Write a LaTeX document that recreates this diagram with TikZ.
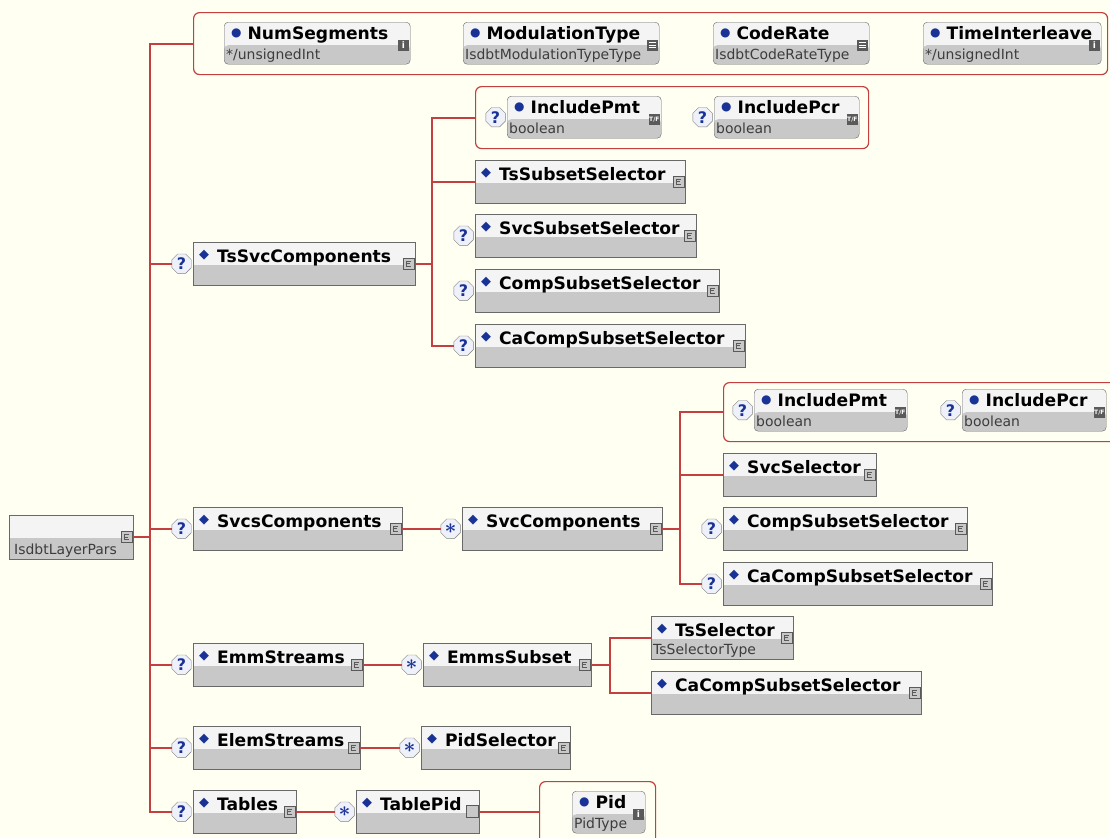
\documentclass[tikz,border=0pt]{standalone}
\usepackage{fontspec}
\usepackage{amsmath}
\usepackage{tikz}
\usetikzlibrary{positioning,shapes.geometric}
\setmainfont{DejaVu Sans}

\definecolor{bgcream}{RGB}{255,255,242}
\definecolor{linkred}{RGB}{196,64,64}
\definecolor{boxline}{RGB}{105,105,105}
\definecolor{bandgray}{RGB}{200,200,200}
\definecolor{topgray}{RGB}{244,244,244}
\definecolor{mkblue}{RGB}{25,50,150}
\definecolor{icondark}{RGB}{90,90,90}
\definecolor{qfill}{RGB}{238,240,250}
\definecolor{typegray}{RGB}{60,60,60}

\newcommand{\mkdiamond}{{\color{mkblue}\raisebox{4bp}{\fontsize{13}{13}\selectfont ◆}}\hspace{8bp}}
\newcommand{\mkdot}{{\color{mkblue}\raisebox{2.5bp}{\fontsize{12}{12}\selectfont ●}}\hspace{6bp}}

\newcommand{\xsdelem}[6]{%
  \node[elembox, minimum width=#4bp] (#1) at (#2,#3) {};
  \node[elemname] (#1-n) at ([shift={(6,20)}]#1.north west) {\mkdiamond #5};
  \node[#6] (#1-i) at ([xshift=-7bp]#1.east) {};}

\newcommand{\xsdattr}[7]{%
  \node[attrbox, minimum width=#4bp] (#1) at (#2,#3) {};
  \node[elemname] (#1-n) at ([shift={(7,17)}]#1.north west) {\mkdot #5};
  \node[typename] (#1-y) at ([shift={(2,-5)}]#1.south west) {#6};
  \node[#7] (#1-i) at ([shift={(-7bp,-2bp)}]#1.east) {};}

\tikzset{
  elembox/.style={rectangle, draw=boxline, fill=topgray, anchor=north west, inner sep=0pt, minimum height=43bp,
    path picture={\fill[bandgray] ([yshift=-23bp]path picture bounding box.north west) rectangle (path picture bounding box.south east);}},
  attrbox/.style={elembox, rounded corners=4bp, minimum height=42bp},
  elemname/.style={anchor=base west, inner sep=0pt, font=\bfseries\fontsize{17.2}{19}\selectfont},
  typename/.style={anchor=base west, inner sep=0pt, text=typegray, font=\fontsize{14}{16}\selectfont},
  grp/.style={rectangle, draw=linkred, rounded corners=6bp, fill=bgcream, anchor=north west, inner sep=0pt, line width=1.2bp},
  link/.style={draw=linkred, line width=2bp},
  optq/.style={regular polygon, regular polygon sides=8, minimum size=21bp, inner sep=0pt, draw=gray, fill=qfill,
    text=mkblue, font=\bfseries\fontsize{16}{16}\selectfont},
  cicon/.style={rectangle, minimum size=11bp, inner sep=0pt, draw=icondark, fill=bandgray, line width=0.6bp,
    path picture={\draw[icondark, line width=0.7bp] ([shift={(2.5bp,2.5bp)}]path picture bounding box.center) -- ++(-5bp,0bp) -- ++(0bp,-5bp) -- ++(5bp,0bp)
      ([shift={(-2.5bp,0bp)}]path picture bounding box.center) -- ++(4bp,0bp);}},
  iicon/.style={rectangle, minimum size=11bp, inner sep=0pt, fill=icondark, text=white, font=\bfseries\fontsize{9}{9}\selectfont,
    execute at begin node={i}},
  eicon/.style={rectangle, minimum size=11bp, inner sep=0pt, fill=icondark,
    path picture={\draw[white, line width=0.8bp] ([shift={(-3.5bp,2.5bp)}]path picture bounding box.center) -- ++(7bp,0bp)
      ([shift={(-3.5bp,0bp)}]path picture bounding box.center) -- ++(7bp,0bp)
      ([shift={(-3.5bp,-2.5bp)}]path picture bounding box.center) -- ++(7bp,0bp);}},
  bicon/.style={rectangle, minimum size=11bp, inner sep=0pt, fill=icondark, text=white, font=\bfseries\fontsize{6}{6}\selectfont,
    execute at begin node={T/F}},
  nicon/.style={rectangle, minimum size=12bp, inner sep=0pt, fill=bandgray, draw=icondark, line width=0.8bp}
}

\begin{document}
\begin{tikzpicture}[x=1bp, y=-1bp]
\useasboundingbox (0,0) rectangle (1110,838);
\fill[bgcream] (0,0) rectangle (1110,838);
\clip (0,0) rectangle (1110,838);

\node[grp, minimum width=914bp, minimum height=62bp] (grp1) at (193,12) {};
\node[grp, minimum width=393bp, minimum height=62bp] (grp2) at (475,86) {};
\node[grp, minimum width=400bp, minimum height=59bp] (grp3) at (723,382) {};
\node[grp, minimum width=116bp, minimum height=64bp] (grp4) at (539,781) {};

\node[elembox, minimum width=124bp, minimum height=44bp] (root) at (9,515) {};
\node[typename] (root-n) at ([shift={(5,-5)}]root.south west) {IsdbtLayerPars};
\node[cicon] (root-i) at ([xshift=-7bp]root.east) {};

\xsdattr{numseg}{224}{22}{186}{NumSegments}{*/unsignedInt}{iicon}
\xsdattr{modtype}{463}{22}{196}{ModulationType}{IsdbtModulationTypeType}{eicon}
\xsdattr{coderate}{713}{22}{156}{CodeRate}{IsdbtCodeRateType}{eicon}
\xsdattr{timeint}{923}{22}{178}{TimeInterleave}{*/unsignedInt}{iicon}

\xsdelem{tssvc}{193}{242}{222}{TsSvcComponents}{cicon}
\xsdattr{tpmt}{507}{96}{154}{IncludePmt}{boolean}{bicon}
\xsdattr{tpcr}{714}{96}{145}{IncludePcr}{boolean}{bicon}
\xsdelem{tssub}{475}{160}{210}{TsSubsetSelector}{cicon}
\xsdelem{tsvcsub}{475}{214}{221}{SvcSubsetSelector}{cicon}
\xsdelem{tcompsub}{475}{269}{244}{CompSubsetSelector}{cicon}
\xsdelem{tcacomp}{475}{324}{270}{CaCompSubsetSelector}{cicon}

\xsdelem{svcs}{193}{507}{209}{SvcsComponents}{cicon}
\xsdelem{svccomp}{462}{507}{200}{SvcComponents}{cicon}
\xsdattr{spmt}{754}{389}{153}{IncludePmt}{boolean}{bicon}
\xsdattr{spcr}{962}{389}{144}{IncludePcr}{boolean}{bicon}
\xsdelem{svcsel}{723}{453}{153}{SvcSelector}{cicon}
\xsdelem{scompsub}{723}{507}{244}{CompSubsetSelector}{cicon}
\xsdelem{scacomp}{723}{562}{269}{CaCompSubsetSelector}{cicon}

\xsdelem{emm}{193}{643}{170}{EmmStreams}{cicon}
\xsdelem{emmsub}{423}{643}{168}{EmmsSubset}{cicon}
\xsdelem{tssel}{651}{616}{142}{TsSelector}{cicon}
\node[typename] (tssel-y) at ([shift={(2,-5)}]tssel.south west) {TsSelectorType};
\xsdelem{ecacomp}{651}{671}{270}{CaCompSubsetSelector}{cicon}

\xsdelem{elems}{193}{726}{167}{ElemStreams}{cicon}
\xsdelem{pidsel}{421}{726}{149}{PidSelector}{cicon}
\xsdelem{tables}{193}{790}{103}{Tables}{cicon}
\xsdelem{tablepid}{356}{790}{123}{TablePid}{nicon}
\xsdattr{pid}{572}{791}{73}{Pid}{PidType}{iicon}

\foreach \n in {tssvc,tsvcsub,tcompsub,tcacomp,tpmt,tpcr,svcs,spmt,spcr,scompsub,scacomp,emm,elems,tables}
  \node[optq, left=1.5bp of \n] (\n-q) {?};
\foreach \n in {svccomp,emmsub,pidsel,tablepid}
  \node[optq, left=1.5bp of \n, font=\fontsize{22}{22}\selectfont] (\n-s) {$\boldsymbol{\ast}$};

\path (root.east) ++(17,0) coordinate (b0);
\draw[link] (root.east) -- (b0);
\draw[link] (grp1.west) -| (b0) |- (tables-q.west);
\foreach \n in {tssvc,svcs,emm,elems}
  \draw[link] (\n-q.west) -- (\n-q.west -| b0);

\path (tssvc.east) ++(17,0) coordinate (b1);
\draw[link] (tssvc.east) -- (b1);
\draw[link] (grp2.west) -| (b1) |- (tcacomp-q.west);
\draw[link] (tssub.west) -- (tssub.west -| b1);

\draw[link] (svcs.east) -- (svccomp-s.west);
\path (svccomp.east) ++(18,0) coordinate (b2);
\draw[link] (svccomp.east) -- (b2);
\draw[link] (grp3.west) -| (b2) |- (scacomp-q.west);
\draw[link] (svcsel.west) -- (svcsel.west -| b2);

\draw[link] (emm.east) -- (emmsub-s.west);
\path (emmsub.east) ++(19,0) coordinate (b3);
\draw[link] (emmsub.east) -- (b3);
\draw[link] (tssel.west) -| (b3) |- (ecacomp.west);

\draw[link] (elems.east) -- (pidsel-s.west);
\draw[link] (tables.east) -- (tablepid-s.west);
\draw[link] (tablepid.east) -- (grp4.west |- tablepid.east);
\end{tikzpicture}
\end{document}
